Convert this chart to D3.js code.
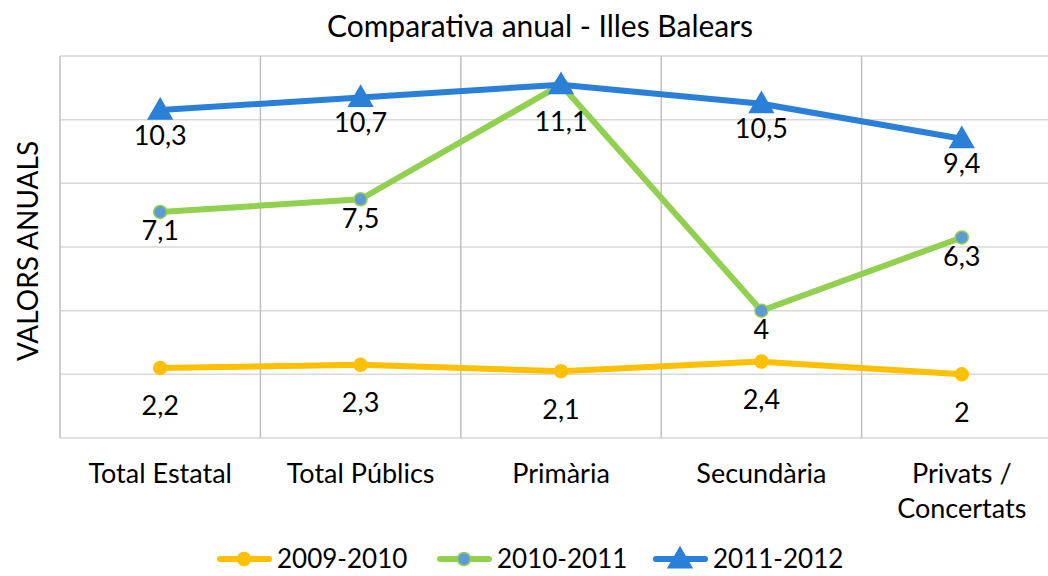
<!DOCTYPE html>
<html>
<head>
<meta charset="utf-8">
<script src="https://cdn.jsdelivr.net/npm/d3@7/dist/d3.min.js"></script>
<style>
  html, body { margin: 0; padding: 0; background: #fff; }
  svg { display: block; }
  text { font-family: Lato, "Open Sans", sans-serif; fill: #000; }
</style>
</head>
<body>
<svg id="chart" width="1048" height="576"></svg>
<script>
const title = "Comparativa anual - Illes Balears";
const yAxisTitle = "VALORS ANUALS";
const categories = ["Total Estatal", "Total Públics", "Primària", "Secundària", "Privats / Concertats"];
const seriesNames = ["2009-2010", "2010-2011", "2011-2012"];
const values2009 = [2.2, 2.3, 2.1, 2.4, 2.0];
const values2010 = [7.1, 7.5, 11.1, 4.0, 6.3];
const values2011 = [10.3, 10.7, 11.1, 10.5, 9.4];
const yTicks = [0, 2, 4, 6, 8, 10, 12];

const styles = {
  "2009-2010": { color: "#FFC000", marker: "circle", fill: "#FFC000", labelDy: 38 },
  "2010-2011": { color: "#92D050", marker: "circle", fill: "#5E9BD6", labelDy: 19 },
  "2011-2012": { color: "#2A7FD8", marker: "triangle", fill: "#2A7FD8", labelDy: 25 }
};

const series = [
  { name: seriesNames[0], values: values2009 },
  { name: seriesNames[1], values: values2010 },
  { name: seriesNames[2], values: values2011 }
];

const fmt = v => String(v).replace(".", ",");

const svg = d3.select("#chart");
const plotLeft = 60, plotTop = 56, plotBottom = 438, plotRight = 1062;

const x = d3.scaleBand().domain(categories).range([plotLeft, plotRight]);
const y = d3.scaleLinear().domain([0, 12]).range([plotBottom, plotTop]);

// horizontal gridlines
svg.append("g").selectAll("line").data(yTicks).join("line")
  .attr("x1", plotLeft).attr("x2", plotRight)
  .attr("y1", d => y(d)).attr("y2", d => y(d))
  .attr("stroke", "#d9d9d9").attr("stroke-width", 1.5);

// vertical gridlines at band edges
const edges = categories.map(c => x(c)).concat([plotRight]);
svg.append("g").selectAll("line").data(edges).join("line")
  .attr("x1", d => d).attr("x2", d => d)
  .attr("y1", plotTop).attr("y2", plotBottom)
  .attr("stroke", "#bfbfbf").attr("stroke-width", 1.5);

// title
svg.append("text").attr("x", 540).attr("y", 37)
  .attr("text-anchor", "middle").attr("font-size", 30).text(title);

// y-axis title
svg.append("text")
  .attr("transform", "translate(38,251) rotate(-90)")
  .attr("text-anchor", "middle").attr("font-size", 28).text(yAxisTitle);

// x labels
const xl = svg.append("g");
categories.forEach(c => {
  const cx = x(c) + x.bandwidth() / 2;
  const parts = c === "Privats / Concertats" ? ["Privats /", "Concertats"] : [c];
  const t = xl.append("text").attr("x", cx).attr("y", 483)
    .attr("text-anchor", "middle").attr("font-size", 27);
  parts.forEach((p, i) => t.append("tspan").attr("x", cx).attr("dy", i === 0 ? 0 : 35).text(p));
});

const line = d3.line().x((d, i) => x(categories[i]) + x.bandwidth() / 2).y(d => y(d));
const tri = d3.symbol().type(d3.symbolTriangle).size(300);

function drawMarker(g, st, cx, cy) {
  if (st.marker === "circle") {
    g.append("circle").attr("cx", cx).attr("cy", cy).attr("r", 6.5)
      .attr("fill", st.fill).attr("stroke", st.color).attr("stroke-width", 1.5);
  } else {
    g.append("path").attr("d", tri).attr("transform", `translate(${cx},${cy + 2})`)
      .attr("fill", st.fill);
  }
}

series.forEach(s => {
  const st = styles[s.name];
  const g = svg.append("g");
  g.append("path").datum(s.values).attr("d", line)
    .attr("fill", "none").attr("stroke", st.color).attr("stroke-width", 6)
    .attr("stroke-linejoin", "round").attr("stroke-linecap", "round");
  s.values.forEach((v, i) => drawMarker(g, st, x(categories[i]) + x.bandwidth() / 2, y(v)));
});

// data labels (skip duplicated labels at the same point, keep last series)
const labelsG = svg.append("g");
series.forEach((s, si) => {
  const st = styles[s.name];
  s.values.forEach((v, i) => {
    const dup = series.some((o, oi) => oi > si && o.values[i] === v);
    if (dup) return;
    const extra = series.some((o, oi) => oi < si && o.values[i] === v) ? 12 : 0;
    labelsG.append("text")
      .attr("x", x(categories[i]) + x.bandwidth() / 2)
      .attr("y", y(v) + st.labelDy + extra)
      .attr("dy", "0.35em")
      .attr("text-anchor", "middle").attr("font-size", 27)
      .text(fmt(v));
  });
});

// legend
const legendX = [217, 437, 653];
const leg = svg.append("g");
series.forEach((s, i) => {
  const st = styles[s.name];
  const lx = legendX[i], ly = 559;
  leg.append("line").attr("x1", lx + 3).attr("x2", lx + 52).attr("y1", ly).attr("y2", ly)
    .attr("stroke", st.color).attr("stroke-width", 6).attr("stroke-linecap", "round");
  drawMarker(leg, st, lx + 27, ly);
  leg.append("text").attr("x", lx + 60).attr("y", ly).attr("dy", "0.35em")
    .attr("font-size", 26).text(s.name);
});
</script>
</body>
</html>
